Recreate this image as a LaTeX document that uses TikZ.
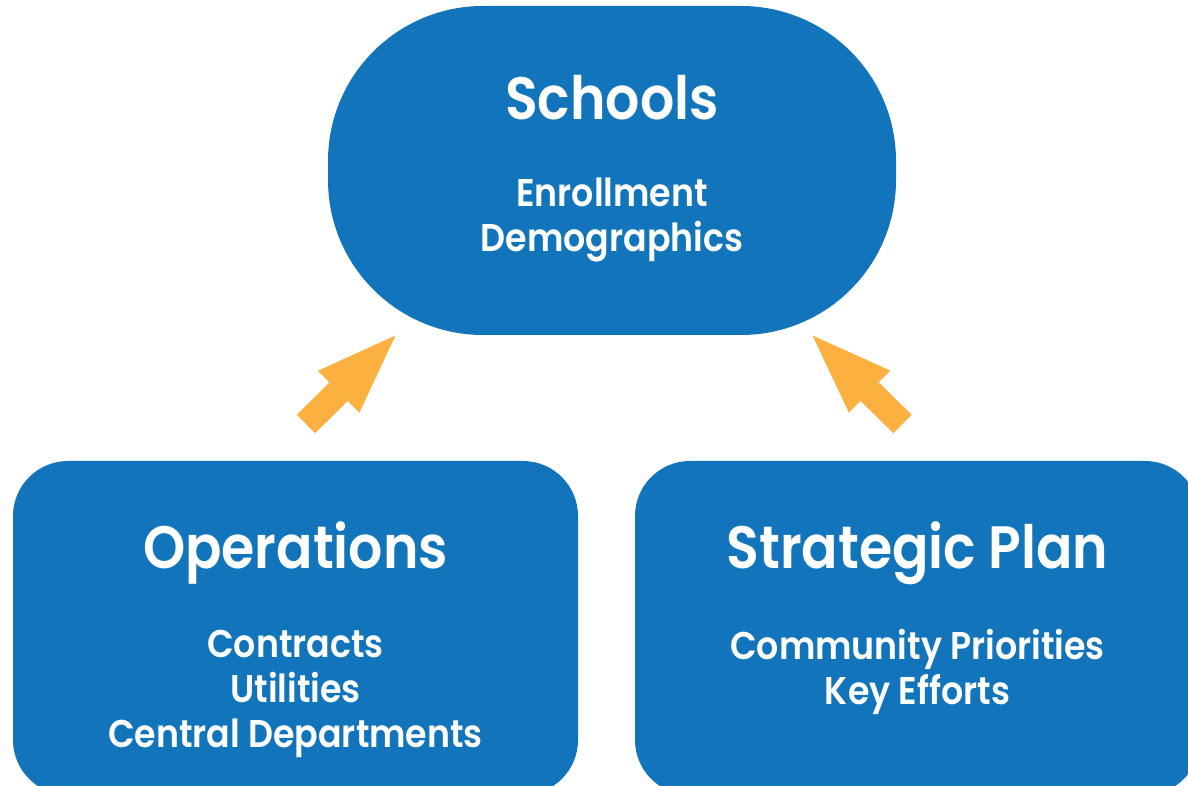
\documentclass[tikz,border=0pt]{standalone}
\usepackage{fontspec}
\setmainfont{Poppins}[BoldFont={Poppins SemiBold}, FakeStretch=0.9]
\usetikzlibrary{positioning}
\usetikzlibrary{arrows.meta}
\definecolor{boxblue}{RGB}{18,117,188}
\definecolor{arrowgold}{RGB}{251,176,64}

\begin{document}
\begin{tikzpicture}[box/.style={fill=boxblue, draw=none, minimum width=11.3cm, minimum height=6.68cm, rounded corners=1.1cm},
        title/.style={text=white, font=\bfseries\fontsize{34}{40}\selectfont},
        items/.style={text=white, align=center, font=\bfseries\fontsize{22}{25.6}\selectfont},
        push/.style={arrowgold, line width=0.52cm, -{Triangle[length=1.6cm, width=1.18cm, line width=0pt]}}]
        \useasboundingbox (0,0) rectangle (23.76,15.7);

        \node[box, minimum width=11.36cm, minimum height=6.58cm, rounded corners=3.1cm] (schools) at (12.24, 12.29) {};
        \node[box] (ops) at (5.91, 3.14) {};
        \node[box] (plan) at (18.35, 3.14) {};

        \node[title] (schoolsT) at (12.24, 13.74) {Schools};
        \node[items] (schoolsL) at (12.24, 11.31) {Enrollment\\Demographics};
        \node[title] (opsT) at (5.91, 4.64) {Operations};
        \node[items] (opsL) at (5.91, 1.82) {Contracts\\Utilities\\Central Departments};
        \node[title] (planT) at (18.35, 4.64) {Strategic Plan};
        \node[items] (planL) at (18.35, 2.26) {Community Priorities\\Key Efforts};

        \coordinate (opsTail) at (6.12, 7.22);
        \coordinate (opsTip) at (7.91, 8.99);
        \coordinate (planTail) at (18.05, 7.22);
        \coordinate (planTip) at (16.25, 8.99);

        \draw[push] (opsTail) -- (opsTip);
        \draw[push] (planTail) -- (planTip);
    \end{tikzpicture}
\end{document}
